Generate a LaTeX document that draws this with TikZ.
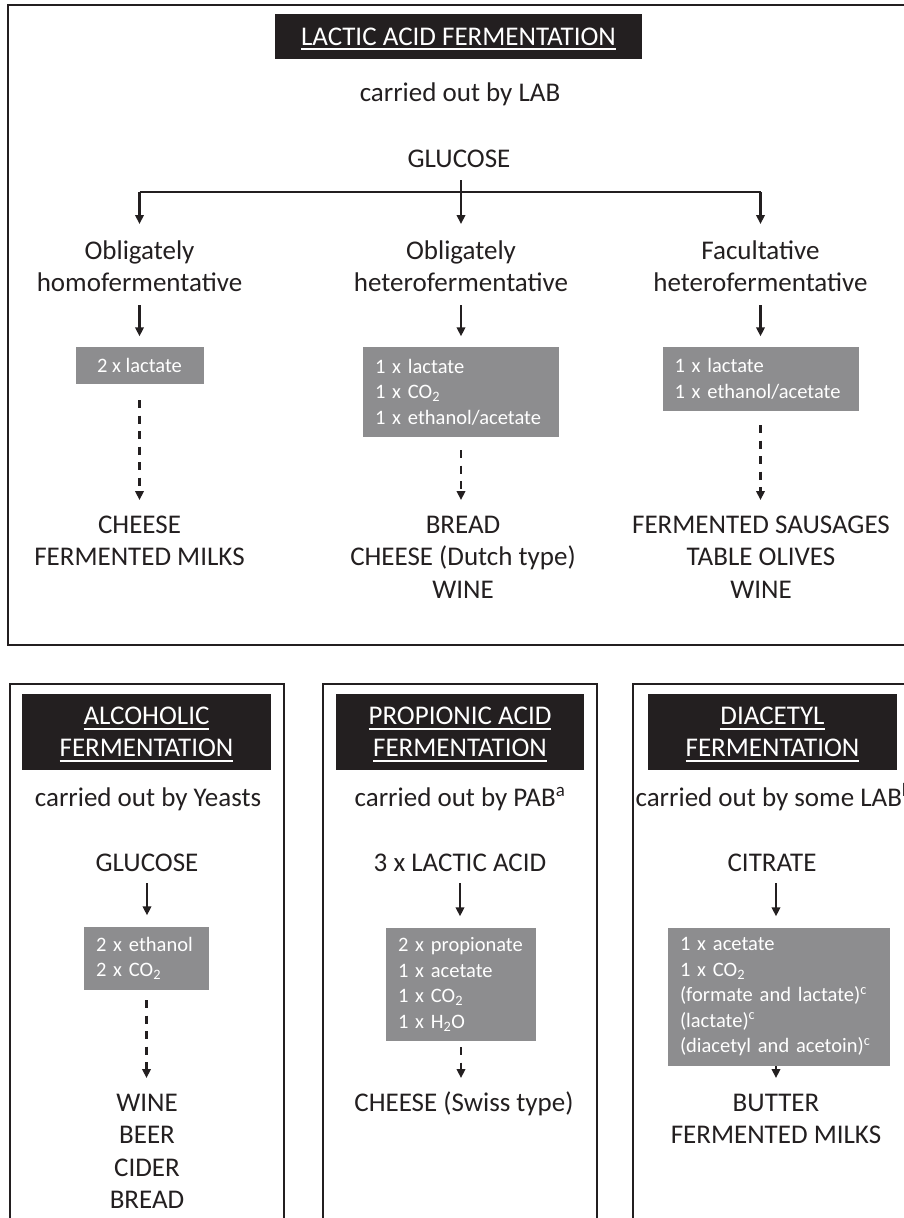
\documentclass[tikz,border=0pt]{standalone}
\usepackage{fontspec}
\setmainfont{Carlito}
\usetikzlibrary{arrows.meta}
\definecolor{boxgrey}{RGB}{141,141,143}
\definecolor{titleblack}{RGB}{35,31,32}
\definecolor{ink}{RGB}{35,31,32}
\newcommand{\ulw}[1]{\setbox0=\hbox{#1}\rlap{\smash{\rule[-5.3pt]{\wd0}{2pt}}}\box0}
\tikzset{
  frame/.style={draw=ink, line width=2pt},
  txt/.style={font=\fontsize{27}{32.5}\selectfont, text=ink, inner sep=0pt, align=center},
  titlebox/.style={fill=titleblack, text=white, inner sep=0pt, align=center, font=\fontsize{27}{32}\selectfont},
  greybox/.style={fill=boxgrey, text=white, font=\fontsize{20.5}{25.5}\selectfont, inner xsep=12pt, inner ysep=0pt, align=left},
  conn/.style={draw=ink, line width=2.1pt},
  arr/.style={conn, -{Triangle[length=9pt,width=8.5pt]}},
  darr/.style={arr, dash pattern=on 8pt off 7.5pt, line width=2.4pt}
}
\begin{document}
\begin{tikzpicture}[x=1pt,y=-1pt]
\useasboundingbox (0,0) rectangle (904,1218);
\clip (0,0) rectangle (904,1218);

% ===== top panel =====
\draw[frame] (8,5) rectangle (940,645);
\node[titlebox, minimum width=367pt, minimum height=45pt] (ltitle) at (458.5,36.5) {\ulw{LACTIC ACID FERMENTATION}};
\node[txt, anchor=base] (lab) at (460,101) {carried out by LAB};
\node[txt, anchor=base] (glu) at (459,167) {\strut GLUCOSE};

\node[txt, anchor=north] (ob1) at (139.5,236.25) {\strut Obligately\\homofermentative\strut};
\node[txt, anchor=north] (ob2) at (461,236.25) {\strut Obligately\\heterofermentative\strut};
\node[txt, anchor=north] (ob3) at (760.5,236.25) {\strut Facultative\\heterofermentative\strut};

\coordinate (split) at (461,192);
\draw[conn] (ob1.north |- split) -- (ob3.north |- split);
\draw[arr, shorten <=3.25pt, shorten >=12.25pt] (ob2.north |- glu.south) -- (ob2.north);
\draw[arr, shorten >=12.25pt] (ob1.north |- split) -- (ob1.north);
\draw[arr, shorten >=12.25pt] (ob3.north |- split) -- (ob3.north);

\node[greybox, align=center, minimum width=128pt, minimum height=37pt] (p1) at (139.5,365.5) {2 x lactate};
\node[greybox, text width=172pt, minimum height=90pt] (p2) at (461,392) {1 x lactate\\1 x CO\textsubscript{2}\\1 x ethanol/acetate};
\node[greybox, text width=172pt, minimum height=64pt] (p3) at (760.5,379) {1 x lactate\\1 x ethanol/acetate};

\draw[arr, shorten <=3.75pt, shorten >=10.5pt] (ob1.south) -- (ob1.south |- p1.north);
\draw[arr, shorten <=3.75pt, shorten >=10.5pt] (ob2.south) -- (ob2.south |- p2.north);
\draw[arr, shorten <=3.75pt, shorten >=10.5pt] (ob3.south) -- (ob3.south |- p3.north);

\node[txt, anchor=north] (f1) at (139.5,510.25) {\strut CHEESE\\FERMENTED MILKS};
\node[txt, anchor=north] (f2) at (463,510.25) {\strut BREAD\\CHEESE (Dutch type)\\WINE};
\node[txt, anchor=north] (f3) at (761,510.25) {\strut FERMENTED SAUSAGES\\TABLE OLIVES\\WINE};

\draw[darr, shorten <=16pt, shorten >=10.25pt] (p1.south) -- (p1.south |- f1.north);
\draw[darr, shorten <=13pt, shorten >=10.25pt] (p2.south) -- (p2.south |- f2.north);
\draw[darr, shorten <=14pt, shorten >=10.25pt] (p3.south) -- (p3.south |- f3.north);

% ===== lower panels =====
\draw[frame] (10,684) rectangle (284,1240);
\draw[frame] (323,684) rectangle (597,1240);
\draw[frame] (633,684) rectangle (940,1240);

\node[titlebox, minimum width=249pt, minimum height=76pt] (atitle) at (146.5,732) {\ulw{ALCOHOLIC}\\\ulw{FERMENTATION}};
\node[titlebox, minimum width=248pt, minimum height=76pt] (ptitle) at (460,732) {\ulw{PROPIONIC ACID}\\\ulw{FERMENTATION}};
\node[titlebox, minimum width=249pt, minimum height=76pt] (dtitle) at (772.5,732) {\ulw{DIACETYL}\\\ulw{FERMENTATION}};

\node[txt, anchor=base] (cy) at (148,806) {carried out by Yeasts};
\node[txt, anchor=base] (cp) at (460,806) {carried out by PAB\textsuperscript{a}};
\node[txt, anchor=base] (cl) at (774,806) {carried out by some LAB\textsuperscript{b}};

\node[txt, anchor=base] (g2) at (147,871) {\strut GLUCOSE};
\node[txt, anchor=base] (la) at (460,871) {\strut 3 x LACTIC ACID};
\node[txt, anchor=base] (ci) at (772,871) {\strut CITRATE};

\node[greybox, text width=101pt, minimum height=63pt] (q1) at (146.5,958.5) {2 x ethanol\\2 x CO\textsubscript{2}};
\node[greybox, text width=126pt, minimum height=113pt] (q2) at (461,984.5) {2 x propionate\\1 x acetate\\1 x CO\textsubscript{2}\\1 x H\textsubscript{2}O};
\node[greybox, text width=198pt, minimum height=138pt] (q3) at (779,997) {1 x acetate\\1 x CO\textsubscript{2}\\(formate and lactate)\textsuperscript{c}\\(lactate)\textsuperscript{c}\\(diacetyl and acetoin)\textsuperscript{c}};

\draw[arr, shorten <=2.25pt, shorten >=11.5pt] (g2.south) -- (g2.south |- q1.north);
\draw[arr, shorten <=2.25pt, shorten >=11.5pt] (la.south) -- (la.south |- q2.north);
\draw[arr, shorten <=2.25pt, shorten >=11.5pt] ([xshift=4pt]ci.south) -- ([xshift=4pt]ci.south |- q3.north);

\node[txt, anchor=north] (h1) at (147,1088.25) {\strut WINE\\BEER\\CIDER\\BREAD};
\node[txt, anchor=north] (h2) at (464,1088.25) {\strut CHEESE (Swiss type)};
\node[txt, anchor=north] (h3) at (776,1088.25) {\strut BUTTER\\FERMENTED MILKS};

\draw[darr, shorten <=10pt, shorten >=10.25pt] (q1.south) -- (q1.south |- h1.north);
\draw[darr, shorten <=6pt, shorten >=10.25pt] (q2.south) -- (q2.south |- h2.north);
\draw[darr, shorten >=10.25pt] (h3.north |- q3.south) -- (h3.north);
\end{tikzpicture}
\end{document}
